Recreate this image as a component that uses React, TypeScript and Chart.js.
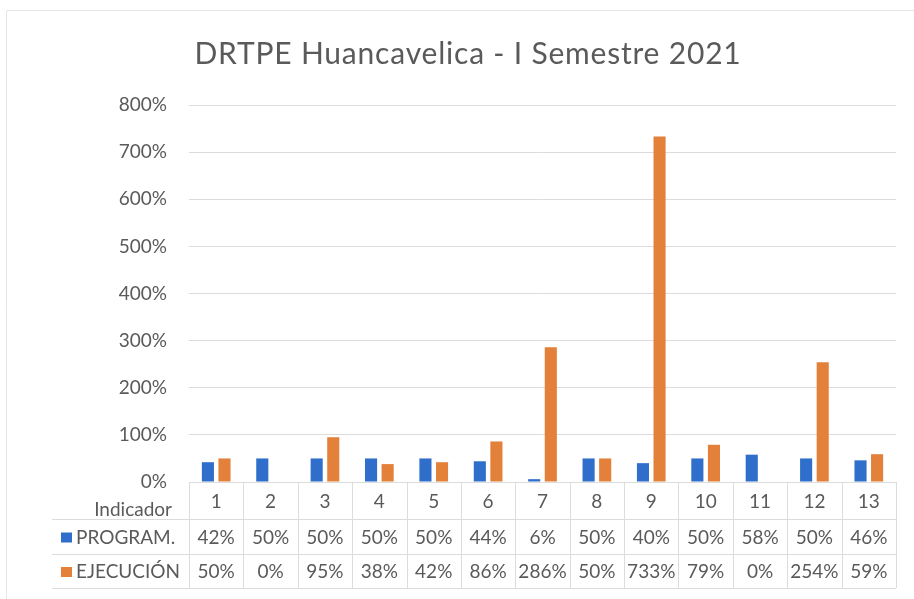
import React, { useEffect, useRef } from "react";
import { Chart, registerables } from "chart.js";

Chart.register(...registerables);

const titleText = "DRTPE Huancavelica - I Semestre 2021";
const categories = ["1", "2", "3", "4", "5", "6", "7", "8", "9", "10", "11", "12", "13"];
const programado = [42, 50, 50, 50, 50, 44, 6, 50, 40, 50, 58, 50, 46];
const ejecucion = [50, 0, 95, 38, 42, 86, 286, 50, 733, 79, 0, 254, 59];
const seriesNames = ["PROGRAM.", "EJECUCIÓN"];
const seriesColors = ["#2F6FCB", "#E3803A"];
const categoryTitle = "Indicador";

const FONT = "Lato, 'Open Sans', sans-serif";
const TEXT = "#5a5a5a";
const GRID = "#dcdcdc";

const tablePlugin = {
  id: "dataTable",
  afterDraw(chart: any) {
    const ctx = chart.ctx as CanvasRenderingContext2D;
    const area = chart.chartArea;
    const xs = chart.scales.x;
    const n = categories.length;
    const colW = (area.right - area.left) / n;
    const rowH = [37, 35, 34];
    const y0 = area.bottom;
    const y1 = y0 + rowH[0];
    const y2 = y1 + rowH[1];
    const y3 = y2 + rowH[2];
    const tableLeft = 52;

    ctx.save();
    // chart frame
    ctx.strokeStyle = "#e6e6e6";
    ctx.lineWidth = 1;
    ctx.beginPath();
    ctx.moveTo(6.5, chart.height);
    ctx.lineTo(6.5, 10.5);
    ctx.lineTo(chart.width, 10.5);
    ctx.stroke();

    // title
    ctx.fillStyle = TEXT;
    ctx.font = `30px ${FONT}`;
    (ctx as any).letterSpacing = "0.8px";
    ctx.textAlign = "center";
    ctx.textBaseline = "middle";
    ctx.fillText(titleText, 468, 54);
    (ctx as any).letterSpacing = "0px";

    // table grid
    ctx.strokeStyle = GRID;
    ctx.beginPath();
    for (let i = 0; i <= n; i++) {
      const x = Math.round(area.left + i * colW) + 0.5;
      ctx.moveTo(x, y0);
      ctx.lineTo(x, y3);
    }
    [y1, y2, y3].forEach((y) => {
      ctx.moveTo(tableLeft, Math.round(y) + 0.5);
      ctx.lineTo(area.right, Math.round(y) + 0.5);
    });
    ctx.stroke();

    ctx.fillStyle = TEXT;
    ctx.font = `19px ${FONT}`;
    ctx.textBaseline = "middle";
    ctx.textAlign = "center";
    categories.forEach((c, i) => {
      const x = xs.getPixelForValue(i);
      ctx.fillText(c, x, y0 + 20);
      ctx.fillText(programado[i] + "%", x, (y1 + y2) / 2 + 1);
      ctx.fillText(ejecucion[i] + "%", x, (y2 + y3) / 2 + 1);
    });
    ctx.textAlign = "right";
    ctx.fillText(categoryTitle, area.left - 17, y0 + 28);

    ctx.textAlign = "left";
    const rowsY = [(y1 + y2) / 2 + 1, (y2 + y3) / 2 + 1];
    seriesNames.forEach((name, k) => {
      ctx.fillStyle = seriesColors[k];
      ctx.fillRect(61, rowsY[k] - 5, 11, 10);
      ctx.fillStyle = TEXT;
      ctx.fillText(name, 76, rowsY[k]);
    });
    ctx.restore();
  },
};

export default function App() {
  const ref = useRef<HTMLCanvasElement>(null);
  useEffect(() => {
    const chart = new Chart(ref.current as HTMLCanvasElement, {
      type: "bar",
      data: {
        labels: categories,
        datasets: [
          {
            label: seriesNames[0],
            data: programado,
            backgroundColor: seriesColors[0],
            categoryPercentage: 0.61,
            barPercentage: 0.73,
          },
          {
            label: seriesNames[1],
            data: ejecucion,
            backgroundColor: seriesColors[1],
            categoryPercentage: 0.61,
            barPercentage: 0.73,
          },
        ],
      },
      options: {
        animation: false,
        responsive: false,
        layout: { padding: { top: 105, right: 18, bottom: 0, left: 0 } },
        plugins: {
          legend: { display: false },
          tooltip: { enabled: false },
          title: { display: false },
        },
        scales: {
          x: {
            ticks: { display: false },
            grid: { display: false },
            border: { display: false },
            afterFit: (s: any) => {
              s.height = 117;
            },
          },
          y: {
            min: 0,
            max: 800,
            ticks: {
              stepSize: 100,
              color: TEXT,
              padding: 22,
              font: { family: FONT, size: 19 },
              callback: (v: any) => v + "%",
            },
            grid: { color: GRID, drawTicks: false },
            border: { display: false },
            afterFit: (s: any) => {
              s.width = 189;
            },
          },
        },
      },
      plugins: [tablePlugin],
    });
    return () => chart.destroy();
  }, []);
  return (
    <div style={{ position: "absolute", left: 0, top: 0, width: 914, height: 599, background: "#fff" }}>
      <canvas ref={ref} width={914} height={599} />
    </div>
  );
}
